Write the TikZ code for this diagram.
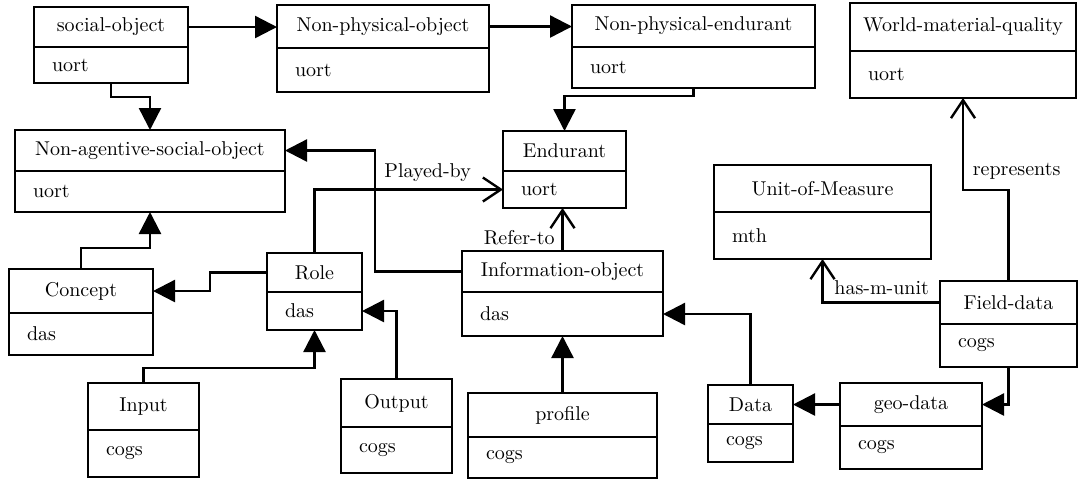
\documentclass[tikz,border=0pt]{standalone}
\usepackage{tikz}
\usetikzlibrary{arrows.meta,positioning}

\begin{document}
\begin{tikzpicture}[x=0.5pt,y=-0.5pt,
  box/.style={draw,line width=0.8pt,outer sep=0pt,inner ysep=0pt},
  ttl/.style={box,anchor=north west},
  att/.style={box,inner xsep=9pt,align=left},
  isa/.style={line width=1.2pt,-{Triangle[length=11pt,width=11pt]}},
  rel/.style={line width=1.2pt,-{Straight Barb[length=9pt,width=12pt]}}]

  \useasboundingbox (0,0) rectangle (1080,479);

  \node[ttl,minimum width=77pt,minimum height=20pt] (so) at (34,7) {social-object};
  \node[att,below=0pt of so,text width=59pt,minimum height=18pt] (so-at) {uort};

  \node[ttl,minimum width=106pt,minimum height=21.5pt] (npo) at (277,5) {Non-physical-object};
  \node[att,below=0pt of npo,text width=88pt,minimum height=22pt] (npo-at) {uort};

  \node[ttl,minimum width=121.5pt,minimum height=21pt] (npe) at (572,5) {Non-physical-endurant};
  \node[att,below=0pt of npe,text width=103.5pt,minimum height=20.5pt] (npe-at) {uort};

  \node[ttl,minimum width=113pt,minimum height=24pt] (wmq) at (850,3) {World-material-quality};
  \node[att,below=0pt of wmq,text width=95pt,minimum height=23.5pt] (wmq-at) {uort};

  \node[ttl,minimum width=135pt,minimum height=20.5pt] (nas) at (15,130) {Non-agentive-social-object};
  \node[att,below=0pt of nas,text width=117pt,minimum height=20.5pt] (nas-at) {uort};

  \node[ttl,minimum width=61.5pt,minimum height=20pt] (endu) at (503,131) {Endurant};
  \node[att,below=0pt of endu,text width=43.5pt,minimum height=18.5pt] (endu-at) {uort};

  \node[ttl,minimum width=108.5pt,minimum height=23.5pt] (uom) at (714,165) {Unit-of-Measure};
  \node[att,below=0pt of uom,text width=90.5pt,minimum height=23.5pt] (uom-at) {mth};

  \node[ttl,minimum width=72pt,minimum height=22pt] (con) at (9,269) {Concept};
  \node[att,below=0pt of con,text width=54pt,minimum height=21pt] (con-at) {das};

  \node[ttl,minimum width=47.5pt,minimum height=19.5pt] (role) at (267,253) {Role};
  \node[att,below=0pt of role,text width=29.5pt,minimum height=19pt] (role-at) {das};

  \node[ttl,minimum width=100.5pt,minimum height=20.5pt] (info) at (462,251) {Information-object};
  \node[att,below=0pt of info,text width=82.5pt,minimum height=22pt] (info-at) {das};

  \node[ttl,minimum width=68.5pt,minimum height=21.5pt] (fd) at (940,281) {Field-data};
  \node[att,below=0pt of fd,text width=50.5pt,minimum height=21.5pt] (fd-at) {cogs};

  \node[ttl,minimum width=55.5pt,minimum height=23.5pt] (inp) at (88,383) {Input};
  \node[att,below=0pt of inp,text width=37.5pt,minimum height=23.5pt] (inp-at) {cogs};

  \node[ttl,minimum width=55.5pt,minimum height=24pt] (out) at (341,379) {Output};
  \node[att,below=0pt of out,text width=37.5pt,minimum height=23pt] (out-at) {cogs};

  \node[ttl,minimum width=94.5pt,minimum height=22pt] (prof) at (468,393) {profile};
  \node[att,below=0pt of prof,text width=76.5pt,minimum height=20.5pt] (prof-at) {cogs};

  \node[ttl,minimum width=42.5pt,minimum height=19.5pt] (data) at (708,385) {Data};
  \node[att,below=0pt of data,text width=24.5pt,minimum height=19pt] (data-at) {cogs};

  \node[ttl,minimum width=71pt,minimum height=21.5pt] (geo) at (840,383) {geo-data};
  \node[att,below=0pt of geo,text width=53pt,minimum height=21.5pt] (geo-at) {cogs};

  \draw[isa] (so.east) -- (so.east -| npo.west);
  \draw[isa] (npo.east) -- (npo.east -| npe.west);
  \draw[isa] (so-at.south) -- ++(0,14) -| (nas.north);
  \draw[isa] (npe-at.south) -- ++(0,8) -| (endu.north);
  \draw[isa] (info.west) -- ++(-87,0) |- (nas.east);
  \draw[rel] (role.north) |- node[pos=0.8,above] {Played-by} (endu-at.west);
  \draw[rel] (info.north) -- node[pos=0.3,left] {Refer-to} (info.north |- endu-at.south);
  \draw[isa] (con.north) -- ++(0,-21) -| (nas-at.south);
  \draw[isa] (role.west) -- ++(-57,0) |- (con.east);
  \draw[isa] (inp.north) -- ++(0,-15) -| (role-at.south);
  \draw[isa] (out.north) |- (role-at.east);
  \draw[isa] (prof.north) -- (info-at.south);
  \draw[isa] (data.north) |- (info-at.east);
  \draw[isa] (geo.west) -- (data.east);
  \draw[isa] (fd-at.south) |- (geo.east);
  \draw[rel] (fd.west) -| node[pos=0.5,above right,xshift=2pt] {has-m-unit} (uom-at.south);
  \draw[rel] (fd.north) -- ++(0,-91) -| node[pos=0.6,right,xshift=1pt] {represents} (wmq-at.south);

\end{tikzpicture}
\end{document}
